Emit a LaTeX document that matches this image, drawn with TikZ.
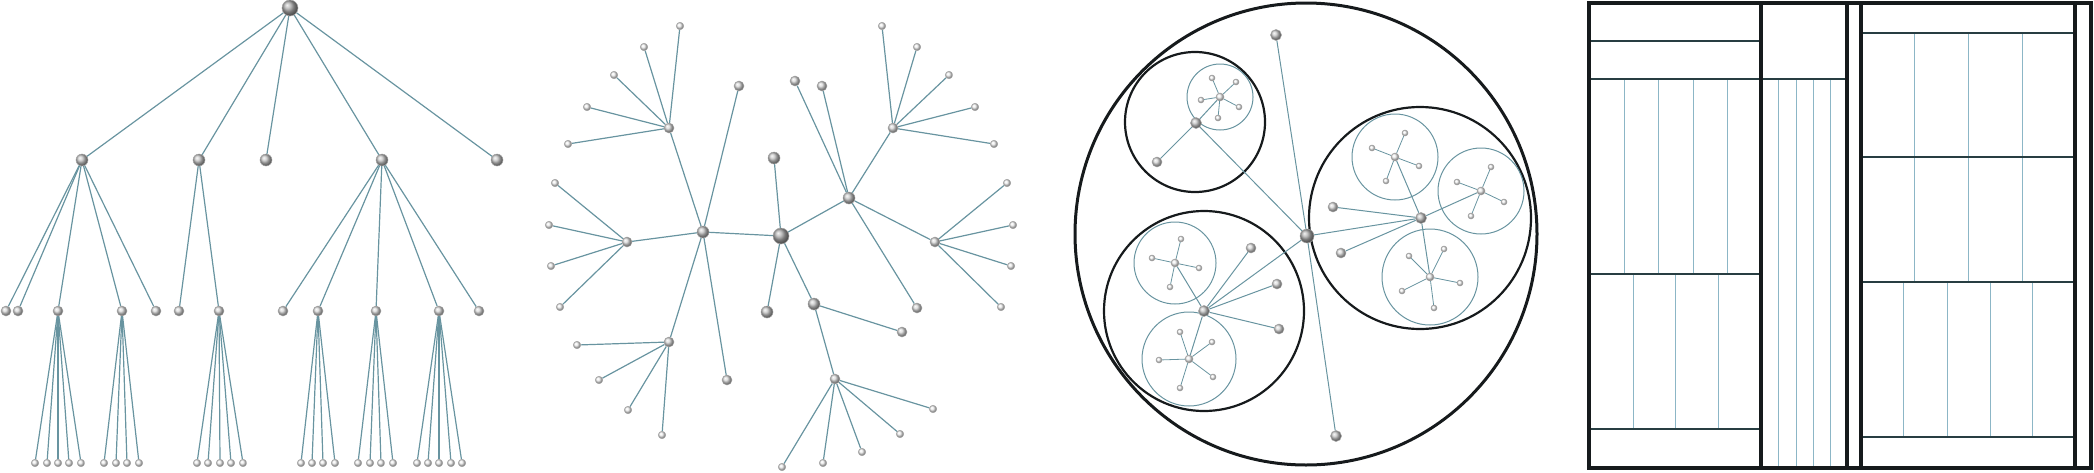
\documentclass[tikz,border=0pt]{standalone}
\usepackage{tikz}
\usetikzlibrary{positioning,calc}
\definecolor{bleulien}{RGB}{104,148,160}
\definecolor{cadre}{RGB}{22,26,28}
\definecolor{trait}{RGB}{40,62,66}
\definecolor{fin}{RGB}{140,182,198}

\begin{document}
\begin{tikzpicture}[x=1pt, y=-1pt,
    noeud/.style={circle, inner sep=0pt, shading=ball, draw=gray!70, line width=0.5pt},
    racine/.style={noeud, ball color=gray!65, minimum size=16pt},
    niv1/.style={noeud, ball color=gray!45, minimum size=12pt},
    niv2/.style={noeud, ball color=gray!32, minimum size=10pt},
    feuille/.style={noeud, ball color=gray!10, minimum size=7.5pt},
    lien/.style={draw=bleulien, line width=1.2pt}]
    \useasboundingbox (0,0) rectangle (2094,472);

    % Arbre
    \node[racine] (t) at (290,8) {};
    \foreach \n/\x in {A/82, B/199, C/266, D/382, E/497} {
        \node[niv1] (t\n) at (\x,160) {};
        \draw[lien] (t) -- (t\n);
    }
    \foreach \p/\n/\x in {A/1/6, A/2/18, A/3/58, A/4/122, A/5/156, B/1/179, B/2/219,
                          D/1/283, D/2/318, D/3/376, D/4/439, D/5/479} {
        \node[niv2] (t\p\n) at (\x,311) {};
        \draw[lien] (t\p) -- (t\p\n);
    }
    \foreach \p/\xs in {A3/{35,47,58,69,81}, A4/{104,116,127,139}, B2/{197,208,220,231,243},
                        D2/{301,312,323,335}, D3/{358,370,381,393}, D4/{417,428,439,451,462}} {
        \foreach \x [count=\i] in \xs {
            \node[feuille] (t\p-\i) at (\x,463) {};
            \draw[lien] (t\p) -- (t\p-\i);
        }
    }

    % Arbre radial
    \node[racine] (r) at (781,236) {};
    \foreach \n/\x/\y in {D/703/232, A/849/198, B/814/304, C/774/158, E/767/312} {
        \node[niv1] (r\n) at (\x,\y) {};
        \draw[lien] (r) -- (r\n);
    }
    \foreach \p/\n/\x/\y in {D/1/669/128, D/2/739/86, D/3/627/242, D/4/669/342, D/5/727/380,
                             A/1/795/81, A/2/822/86, A/3/893/128, A/4/935/242, A/5/917/308,
                             B/1/902/332, B/2/835/379} {
        \node[niv2] (r\p\n) at (\x,\y) {};
        \draw[lien] (r\p) -- (r\p\n);
    }
    \foreach \p/\pts in {D1/{680/26,644/47,614/75,587/107,568/144},
                         D3/{555/183,549/225,551/266,560/307},
                         D4/{577/345,599/380,628/410,662/435},
                         A3/{882/26,917/47,949/75,975/107,994/144},
                         A4/{1007/183,1013/225,1011/266,1001/307},
                         B2/{933/409,900/434,862/452,823/463,782/467}} {
        \foreach \x/\y [count=\i] in \pts {
            \node[feuille] (r\p-\i) at (\x,\y) {};
            \draw[lien] (r\p) -- (r\p-\i);
        }
    }

    % Cercles imbriqués
    \draw[cadre, line width=3pt] (1306,234) circle[radius=231];
    \foreach \x/\y/\r in {1195/122/70, 1204/311/100, 1420/218/111}
        \draw[cadre, line width=2.2pt] (\x,\y) circle[radius=\r];
    \foreach \x/\y/\r in {1220/97/33, 1175/263/41, 1189/359/47, 1395/157/43, 1481/191/43, 1430/277/48}
        \draw[bleulien, line width=1pt] (\x,\y) circle[radius=\r];

    \node[racine, minimum size=14pt] (p) at (1307,236) {};
    \foreach \n/\x/\y in {B/1196/123, A/1204/311, D/1421/218, C/1276/35, E/1336/436} {
        \node[niv1, minimum size=11pt] (p\n) at (\x,\y) {};
        \draw[lien, line width=1pt] (p) -- (p\n);
    }
    \foreach \p/\n/\x/\y in {B/1/1157/162, A/1/1251/248, A/2/1277/284, A/3/1279/329,
                             D/1/1333/207, D/2/1341/253} {
        \node[niv2] (p\p\n) at (\x,\y) {};
        \draw[lien, line width=1pt] (p\p) -- (p\p\n);
    }
    \foreach \p/\n/\x/\y in {B/2/1220/97, A/4/1175/263, A/5/1189/359,
                             D/3/1395/157, D/4/1481/191, D/5/1430/277} {
        \node[feuille, minimum size=8pt] (p\p\n) at (\x,\y) {};
        \draw[lien, line width=1pt] (p\p) -- (p\p\n);
    }
    \foreach \p/\pts in {B2/{1212/78,1236/82,1201/100,1239/107,1218/118},
                         A4/{1181/239,1152/258,1199/268,1170/287},
                         A5/{1180/332,1212/342,1159/360,1213/377,1180/388},
                         D3/{1405/133,1372/148,1419/166,1386/181},
                         D4/{1491/167,1457/182,1504/202,1471/216},
                         D5/{1409/256,1444/249,1460/283,1402/291,1434/308}} {
        \foreach \x/\y [count=\i] in \pts {
            \node[feuille, minimum size=6pt] (p\p-\i) at (\x,\y) {};
            \draw[lien, line width=0.8pt] (p\p) -- (p\p-\i);
        }
    }

    % Treemap
    \foreach \x in {1624,1658,1693,1727} \draw[fin, line width=1pt] (\x,79) -- (\x,274);
    \foreach \x in {1633,1675,1718} \draw[fin, line width=1pt] (\x,274) -- (\x,429);
    \foreach \x in {1778,1796,1813,1830} \draw[fin, line width=1pt] (\x,79) -- (\x,468);
    \foreach \x in {1914,1968,2022} \draw[fin, line width=1pt] (\x,33) -- (\x,282);
    \foreach \x in {1903,1947,1990,2032} \draw[fin, line width=1pt] (\x,282) -- (\x,437);
    \foreach \y in {41,79,274,429} \draw[trait, line width=2pt] (1589,\y) -- (1761,\y);
    \draw[trait, line width=2pt] (1761,79) -- (1847,79);
    \foreach \y in {33,157,282,437} \draw[trait, line width=2pt] (1861,\y) -- (2075,\y);
    \foreach \x in {1761,1847,1861,2075} \draw[cadre, line width=4pt] (\x,3) -- (\x,468);
    \draw[cadre, line width=4pt] (1589,3) rectangle (2091,468);
\end{tikzpicture}
\end{document}
